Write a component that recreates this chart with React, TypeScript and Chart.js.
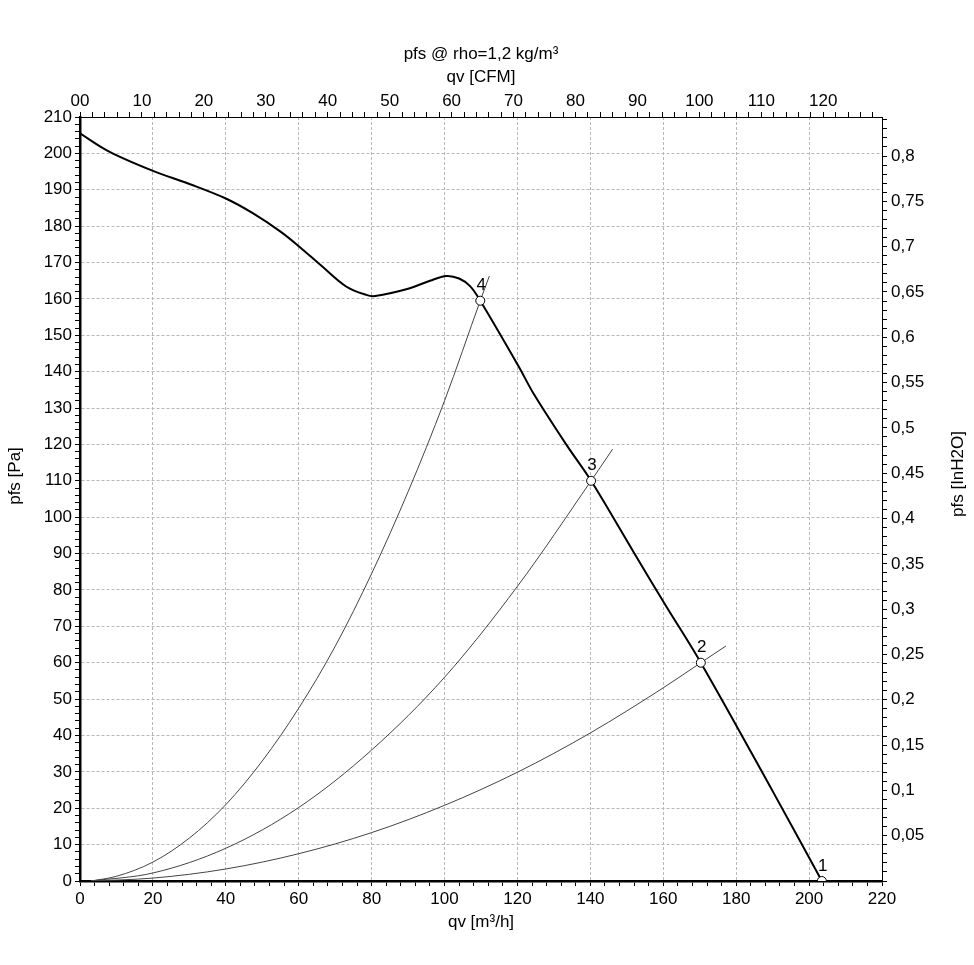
import React, { useEffect, useRef } from 'react';
import { Chart, registerables } from 'chart.js';

Chart.register(...registerables);

// Fan curve pfs [Pa] vs qv [m³/h]
const curveQv = [0, 8, 20, 30, 40, 47.5, 55, 60, 66, 73, 78.5, 81, 90, 96, 100.5, 104, 107, 109.8, 120.3, 124.4, 133.5, 140.2, 151.8, 160.5, 170.3, 190, 203.5];
const curvePfs = [205.5, 200.5, 195.2, 191.6, 187.6, 183.5, 178.5, 174.5, 169.3, 163.4, 161.1, 160.8, 162.8, 165, 166.3, 165.6, 163.5, 159.5, 141.5, 134, 119.8, 110, 90.5, 76, 60, 24.7, 0];

// System curves (through operating points 4, 3, 2)
const sys4Qv = [3, 10, 20, 30, 40, 50, 60, 70, 80, 90, 100, 109.8, 112.3];
const sys4Pfs = [0, 1.3, 5.2, 11.8, 21, 33, 47.5, 64.5, 84.5, 107, 132, 159.5, 166.3];
const sys3Qv = [3, 20, 40, 60, 80, 100, 120, 140.2, 146.1];
const sys3Pfs = [0, 2.2, 9, 20.2, 36, 56, 81, 110, 118.7];
const sys2Qv = [3, 20, 40, 60, 80, 100, 120, 140, 160, 170.3, 177.2];
const sys2Pfs = [0, 0.8, 3.3, 7.5, 13.3, 20.8, 29.9, 40.7, 53.1, 60, 64.6];

// Operating points
const pointQv = [203.5, 170.3, 140.2, 109.8];
const pointPfs = [0, 60, 110, 159.5];
const pointLabels = ['1', '2', '3', '4'];

// Unit conversions for secondary axes
const M3H_PER_CFM = 1.699;
const PA_PER_INH2O = 249.089;

const X_MAX = 220;
const Y_MAX = 210;

const FONT = "'Liberation Sans', Arial, Helvetica, sans-serif";
const GRID = '#b8b8b8';

const zip = (xs: number[], ys: number[]) => xs.map((x, i) => ({ x, y: ys[i] }));

export default function App() {
  const ref = useRef<HTMLCanvasElement | null>(null);

  useEffect(() => {
    if (!ref.current) return;
    const tickFont = { family: FONT, size: 17 };

    const labelsPlugin = {
      id: 'extraText',
      afterDatasetsDraw(chart: any) {
        const { ctx, scales } = chart;
        ctx.save();
        ctx.fillStyle = '#000';
        ctx.font = `17px ${FONT}`;
        ctx.textAlign = 'center';
        ctx.textBaseline = 'middle';
        pointQv.forEach((q, i) => {
          const px = scales.x.getPixelForValue(q);
          const py = scales.y.getPixelForValue(pointPfs[i]);
          ctx.fillText(pointLabels[i], px + 1, py - 15);
        });
        ctx.restore();
      },
      afterDraw(chart: any) {
        const { ctx, scales } = chart;
        ctx.save();
        ctx.fillStyle = '#000';
        ctx.font = `17px ${FONT}`;
        ctx.textAlign = 'center';
        ctx.textBaseline = 'middle';
        // left title
        ctx.save();
        ctx.translate(scales.y.left + 15, 476);
        ctx.rotate(-Math.PI / 2);
        ctx.fillText('pfs [Pa]', 0, 0);
        ctx.restore();
        // right title
        ctx.save();
        ctx.translate(scales.y2.right - 16, 474);
        ctx.rotate(-Math.PI / 2);
        ctx.fillText('pfs [InH2O]', 0, 0);
        ctx.restore();
        ctx.restore();
      },
    };

    const chart = new Chart(ref.current, {
      type: 'line',
      data: {
        datasets: [
          {
            label: 'points',
            data: zip(pointQv, pointPfs),
            showLine: false,
            pointRadius: 4.5,
            pointBackgroundColor: '#fff',
            pointBorderColor: '#000',
            pointBorderWidth: 1,
            clip: 0,
          },
          {
            label: 'pfs',
            data: zip(curveQv, curvePfs),
            borderColor: '#000',
            borderWidth: 2,
            pointRadius: 0,
            tension: 0.35,
          },
          {
            label: 'sys4',
            data: zip(sys4Qv, sys4Pfs),
            borderColor: '#444',
            borderWidth: 1,
            pointRadius: 0,
            cubicInterpolationMode: 'monotone',
          },
          {
            label: 'sys3',
            data: zip(sys3Qv, sys3Pfs),
            borderColor: '#444',
            borderWidth: 1,
            pointRadius: 0,
            cubicInterpolationMode: 'monotone',
          },
          {
            label: 'sys2',
            data: zip(sys2Qv, sys2Pfs),
            borderColor: '#444',
            borderWidth: 1,
            pointRadius: 0,
            cubicInterpolationMode: 'monotone',
          },
        ],
      } as any,
      options: {
        responsive: false,
        animation: false,
        events: [],
        layout: { padding: 0 },
        plugins: { legend: { display: false }, tooltip: { enabled: false }, title: { display: false } },
        scales: {
          x: {
            type: 'linear',
            position: 'bottom',
            min: 0,
            max: X_MAX,
            ticks: {
              stepSize: 4,
              includeBounds: false,
              autoSkip: false,
              maxRotation: 0,
              color: '#000',
              font: tickFont,
              padding: 3,
              callback: (v: any) => {
                const r = Math.round(v);
                return r % 20 === 0 ? String(r) : '';
              },
            },
            grid: {
              color: (c: any) => (c.tick && Math.round(c.tick.value) % 20 === 0 ? GRID : 'rgba(0,0,0,0)'),
              lineWidth: 1,
              tickColor: '#000',
              tickLength: 5,
              tickWidth: 1,
            },
            border: { display: true, color: '#000', width: 2.5, dash: [3, 2] },
            title: {
              display: true,
              text: 'qv [m³/h]',
              color: '#000',
              font: { family: FONT, size: 17 },
              padding: { top: 0, bottom: 32 },
            },
            afterFit: (s: any) => {
              s.height = 84;
            },
          },
          x2: {
            type: 'linear',
            position: 'top',
            min: 0,
            max: X_MAX / M3H_PER_CFM,
            ticks: {
              stepSize: 2,
              includeBounds: false,
              autoSkip: false,
              maxRotation: 0,
              color: '#000',
              font: tickFont,
              padding: 0,
              callback: (v: any) => {
                const r = Math.round(v);
                return r % 10 === 0 ? (r === 0 ? '00' : String(r)) : '';
              },
            },
            grid: { drawOnChartArea: false, color: '#000', tickColor: '#000', tickLength: 5, lineWidth: 1 },
            border: { display: true, color: '#000', width: 1 },
            title: {
              display: true,
              text: ['pfs @ rho=1,2 kg/m³', 'qv [CFM]'],
              color: '#000',
              font: { family: FONT, size: 17, lineHeight: '23px' },
              padding: { top: 42.5, bottom: 0 },
            },
            afterFit: (s: any) => {
              s.height = 117;
            },
          },
          y: {
            type: 'linear',
            position: 'left',
            min: 0,
            max: Y_MAX,
            ticks: {
              stepSize: 2,
              includeBounds: false,
              autoSkip: false,
              color: '#000',
              font: tickFont,
              padding: 3,
              callback: (v: any) => {
                const r = Math.round(v);
                return r % 10 === 0 ? String(r) : '';
              },
            },
            grid: {
              color: (c: any) => (c.tick && Math.round(c.tick.value) % 10 === 0 ? GRID : 'rgba(0,0,0,0)'),
              lineWidth: 1,
              tickColor: '#000',
              tickLength: 5,
              tickWidth: 1,
            },
            border: { display: true, color: '#000', width: 2.5, dash: [3, 2] },
            afterFit: (s: any) => {
              s.width = 80;
            },
          },
          y2: {
            type: 'linear',
            position: 'right',
            min: 0,
            max: Y_MAX / PA_PER_INH2O,
            ticks: {
              stepSize: 0.01,
              includeBounds: false,
              autoSkip: false,
              color: '#000',
              font: tickFont,
              padding: 4,
              callback: (v: any) => {
                const h = Math.round(v * 100);
                return h > 0 && h % 5 === 0 ? String(h / 100).replace('.', ',') : '';
              },
            },
            grid: { drawOnChartArea: false, color: '#000', tickColor: '#000', tickLength: 5, lineWidth: 1 },
            border: { display: true, color: '#000', width: 1 },
            afterFit: (s: any) => {
              s.width = 92;
            },
          },
        },
      } as any,
      plugins: [labelsPlugin],
    });

    return () => {
      chart.destroy();
    };
  }, []);

  return (
    <div style={{ position: 'absolute', left: 0, top: 0, width: 974, height: 965, background: '#fff' }}>
      <canvas ref={ref} width={974} height={965} style={{ display: 'block', width: 974, height: 965 }} />
    </div>
  );
}
